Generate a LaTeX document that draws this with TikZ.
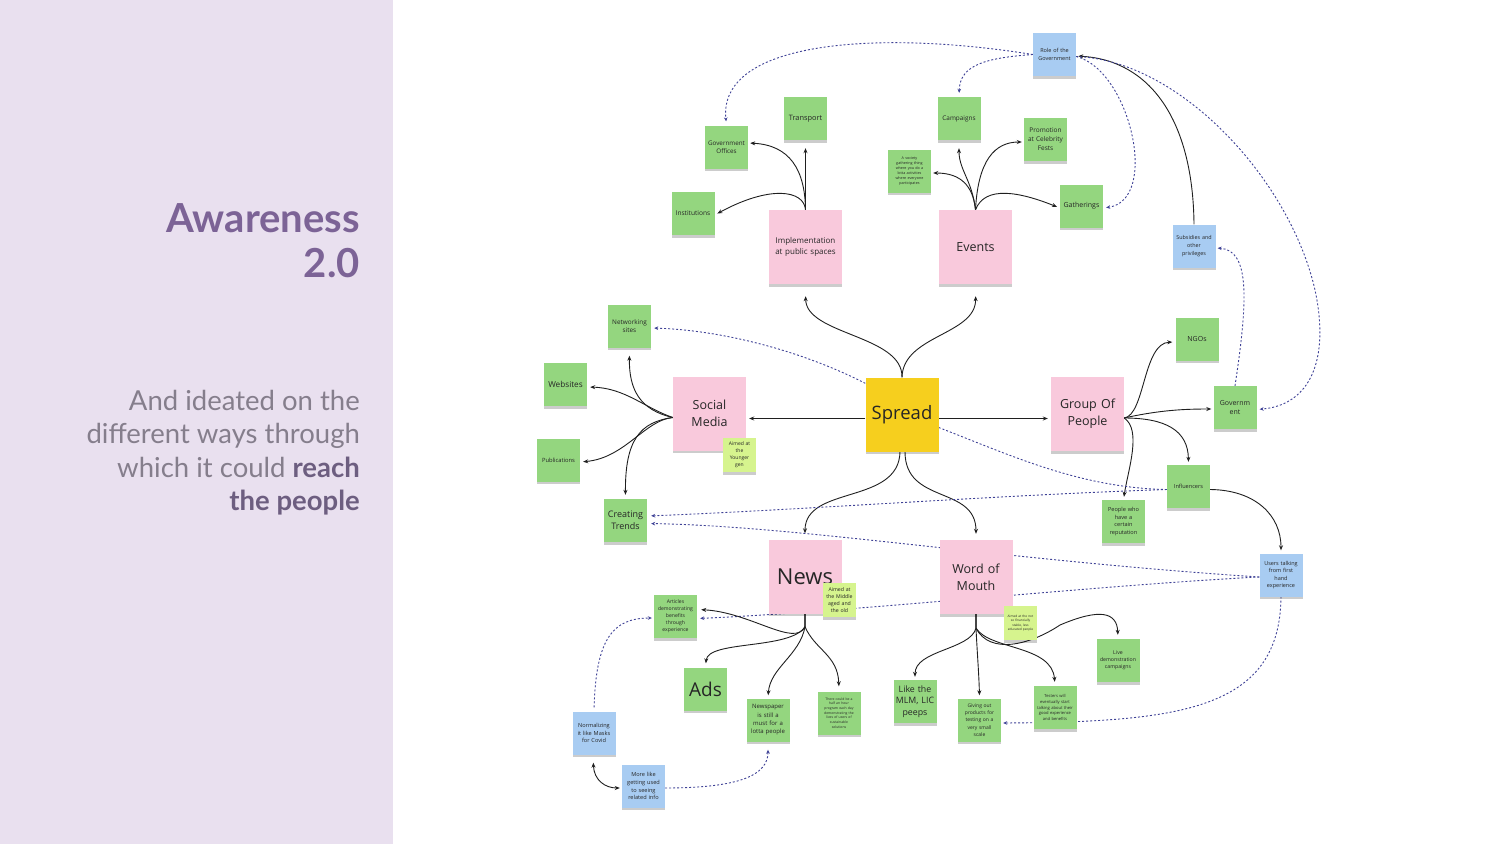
\documentclass[tikz,border=0pt]{standalone}
\usepackage{fontspec}
\setmainfont{Open Sans}
\newfontfamily\lato{Lato}
\usetikzlibrary{shadows,backgrounds,arrows.meta}
\definecolor{panelbg}{HTML}{E9E0EF}
\definecolor{titlepurple}{HTML}{7C6396}
\definecolor{subgray}{HTML}{857E8C}
\definecolor{subbold}{HTML}{6D5E80}
\definecolor{stgreen}{HTML}{94D67F}
\definecolor{stpink}{HTML}{F9C9DC}
\definecolor{styellow}{HTML}{F6CF1E}
\definecolor{stblue}{HTML}{A8CCF2}
\definecolor{stlime}{HTML}{D6F48E}
\definecolor{notetext}{HTML}{262626}
\definecolor{dotblue}{HTML}{3F4296}
\newcommand\fsz[2]{\fontsize{#1}{#2}\selectfont}
\tikzset{
  note/.style={draw=none, align=center, inner sep=1pt, text=notetext,
    drop shadow={shadow xshift=0pt, shadow yshift=-2.5pt, opacity=0.2, fill=black}},
  gnote/.style={note, fill=stgreen, minimum width=43pt, minimum height=43pt, text width=41pt},
  bnote/.style={gnote, fill=stblue},
  pnote/.style={note, fill=stpink, minimum width=73pt, minimum height=74pt, text width=70pt},
  ynote/.style={pnote, fill=styellow},
  lnote/.style={note, fill=stlime, minimum width=33pt, minimum height=34pt, text width=31pt},
  conn/.style={-{Stealth[length=5pt,width=4pt]}, line width=0.9pt, draw=black!88},
  dots/.style={-{Stealth[length=4pt,width=3.6pt]}, dash pattern=on 2pt off 2pt, line width=0.9pt, draw=dotblue},
  dotsplain/.style={dash pattern=on 2pt off 2pt, line width=0.9pt, draw=dotblue},
  subline/.style={anchor=base east, inner sep=0pt, text=subgray, font={\lato\fsz{27.5}{33}}},
  titleline/.style={anchor=base east, inner sep=0pt, text=titlepurple, font={\lato\bfseries\fsz{40}{46}}},
}
\begin{document}
\begin{tikzpicture}[x=1pt,y=-1pt]
\useasboundingbox (0,0) rectangle (1500,844);
\fill[panelbg] (0,0) rectangle (393,844);
\node[titleline] (t1) at (360,232) {Awareness};
\node[titleline] (t2) at (360,277) {2.0};
\node[subline] (s1) at (360,410) {And ideated on the};
\node[subline] (s2) at (360,443.5) {different ways through};
\node[subline] (s3) at (360,477) {which it could {\bfseries\color{subbold}reach}};
\node[subline] (s4) at (360,510) {{\bfseries\color{subbold}the people}};

% main notes
\node[ynote, font={\fsz{18.5}{22}}] (spread) at (902,414.5) {Spread};
\node[pnote, font={\fsz{8}{11}}] (impl) at (805.5,247) {Implementation\\at public spaces};
\node[pnote, font={\fsz{12.5}{17}}] (events) at (975.5,247) {Events};
\node[pnote, font={\fsz{12.5}{17}}] (social) at (709.5,413.5) {Social\\Media};
\node[pnote, font={\fsz{12.5}{17}}] (group) at (1087.5,414) {Group Of\\People};
\node[pnote, font={\fsz{22}{26}}] (news) at (805,576.5) {News};
\node[pnote, font={\fsz{12.5}{17}}] (wom) at (976,577) {Word of\\Mouth};

% top
\node[gnote, font={\fsz{6.3}{8.5}}] (govoff) at (726.5,147) {Government\\Offices};
\node[gnote, font={\fsz{7.4}{9}}] (transport) at (805.5,118.5) {Transport};
\node[gnote, font={\fsz{6.6}{9}}] (inst) at (693,213.5) {Institutions};
\node[gnote, font={\fsz{6.4}{9}}] (camp) at (959,118.5) {Campaigns};
\node[gnote, font={\fsz{6.5}{9}}] (promo) at (1045.5,139.5) {Promotion\\at Celebrity\\Fests};
\node[gnote, font={\fsz{3.7}{5.1}}] (society) at (909.5,171) {A society\\gathering thing\\where you do a\\lotta activities\\where everyone\\participates};
\node[gnote, font={\fsz{7}{9}}] (gather) at (1081.5,206) {Gatherings};
\node[bnote, font={\fsz{5.5}{7.8}}] (roleg) at (1054.5,54.5) {Role of the\\Government};
\node[bnote, font={\fsz{5.4}{7.6}}] (subs) at (1194,246) {Subsidies and\\other\\privileges};

% left
\node[gnote, font={\fsz{6.4}{8.5}}] (netw) at (629.5,326) {Networking\\sites};
\node[gnote, font={\fsz{8.2}{10}}] (webs) at (565.5,384.5) {Websites};
\node[gnote, font={\fsz{5.8}{8}}] (pubs) at (558.5,460) {Publications};
\node[gnote, font={\fsz{9}{12}}] (trends) at (625.5,520.5) {Creating\\Trends};
\node[lnote, font={\fsz{5}{7}}] (younger) at (739.5,455) {Aimed at\\the\\Younger\\gen};

% right
\node[gnote, font={\fsz{7}{9}}] (ngos) at (1197,339) {NGOs};
\node[gnote, font={\fsz{7}{9}}] (govt) at (1235,407.5) {Governm\\ent};
\node[gnote, font={\fsz{5.6}{8}}] (infl) at (1188.5,486.5) {Influencers};
\node[gnote, font={\fsz{5.6}{7.6}}] (people) at (1123.5,521.5) {People who\\have a\\certain\\reputation};
\node[bnote, font={\fsz{5.5}{7.5}}] (users) at (1281,575) {Users talking\\from first\\hand\\experience};

% bottom
\node[lnote, font={\fsz{5.2}{7}}] (middle) at (839.5,600) {Aimed at\\the Middle\\aged and\\the old};
\node[lnote, font={\fsz{3.2}{4.4}}] (notso) at (1020.5,623) {Aimed at the not\\so financially\\stable, less\\educated people};
\node[gnote, font={\fsz{5.1}{7}}] (articles) at (675.5,616.5) {Articles\\demonstrating\\benefits\\through\\experience};
\node[gnote, font={\fsz{19}{22}}] (ads) at (705.5,689) {Ads};
\node[gnote, font={\fsz{6}{8.3}}] (newspaper) at (768,720) {Newspaper\\is still a\\must for a\\lotta people};
\node[gnote, font={\fsz{3.4}{4.7}}] (program) at (839,713) {There could be a\\half an hour\\program each day\\demonstrating the\\lives of users of\\sustainable\\solutions};
\node[bnote, font={\fsz{5.6}{7.6}}] (normal) at (594,733) {Normalizing\\it like Masks\\for Covid};
\node[bnote, font={\fsz{5.6}{7.8}}] (morelike) at (643.5,786) {More like\\getting used\\to seeing\\related info};
\node[gnote, font={\fsz{8.8}{11.5}}] (mlm) at (915,701.5) {Like the\\MLM, LIC\\peeps};
\node[gnote, font={\fsz{5}{7.2}}] (giving) at (979.5,720) {Giving out\\products for\\testing on a\\very small\\scale};
\node[gnote, font={\fsz{4.1}{5.6}}] (testers) at (1055,707.5) {Testers will\\eventually start\\talking about their\\good experience\\and benefits};
\node[gnote, font={\fsz{5.2}{7.2}}] (live) at (1118,660.5) {Live\\demonstration\\campaigns};

\begin{pgfonlayer}{background}
% spread
\draw[conn, shorten >=12pt] (spread.north) .. controls (903,335) and (806,335) .. (impl.south);
\draw[conn, shorten >=12pt] (spread.north) .. controls (903,335) and (976,335) .. (events.south);
\draw[conn, shorten >=3pt] ([yshift=-4pt]spread.west) -- ([yshift=-5pt]social.east);
\draw[conn, shorten >=3pt] ([yshift=-4pt]spread.east) -- ([yshift=-4.5pt]group.west);
\draw[conn, shorten >=6pt] ([xshift=-2pt]spread.south) .. controls (899,505) and (805,485) .. (news.north);
\draw[conn, shorten >=6pt] ([xshift=3pt]spread.south) .. controls (905,505) and (976,485) .. (wom.north);
% implementation
\draw[conn, shorten >=8pt] (impl.north) -- (transport.south);
\draw[conn, shorten >=2pt] (impl.north) .. controls (805,170) and (790,145) .. ([yshift=4pt]govoff.east);
\draw[conn, shorten >=3pt] (impl.north) .. controls (804,190) and (770,185) .. ([yshift=-1.5pt]inst.east);
% events
\draw[conn, shorten >=8pt] (events.north) .. controls (972,180) and (959,170) .. (camp.south);
\draw[conn, shorten >=2pt] (events.north) .. controls (973,185) and (960,173) .. ([yshift=-2pt]society.east);
\draw[conn, shorten >=2pt] (events.north) .. controls (978,160) and (995,142) .. ([yshift=-2.5pt]promo.west);
\draw[conn, shorten >=3pt] (events.north) .. controls (985,185) and (1020,192) .. ([yshift=-2pt]gather.west);
% role of the government
\draw[conn, shorten >=2pt] (subs.north) .. controls (1193,120) and (1150,60) .. ([yshift=-1.5pt]roleg.east);
\draw[dots, shorten >=4pt] (roleg.west) .. controls (880,30) and (718,40) .. (govoff.north);
\draw[dots, shorten >=4pt] (roleg.west) .. controls (985,58) and (960,65) .. (camp.north);
\draw[dots, shorten >=3pt] ([yshift=-2pt]roleg.east) .. controls (1130,70) and (1160,200) .. ([yshift=-2pt]gather.east);
\draw[dots, shorten >=3pt] ([yshift=-2pt]roleg.east) .. controls (1180,60) and (1290,180) .. (1315,290) .. controls (1330,360) and (1310,405) .. ([yshift=-2pt]govt.east);
\draw[dots, shorten >=2pt] (govt.north) .. controls (1248,300) and (1250,250) .. ([yshift=-2pt]subs.east);
% group of people
\draw[conn, shorten >=3pt] ([yshift=-4pt]group.east) .. controls (1145,415) and (1143,343) .. ([yshift=-3pt]ngos.west);
\draw[conn, shorten >=2pt] ([yshift=-4pt]group.east) .. controls (1160,410) and (1185,409) .. ([yshift=-1.5pt]govt.west);
\draw[conn, shorten >=3pt] ([yshift=-4pt]group.east) .. controls (1165,418) and (1188,430) .. (infl.north);
\draw[conn, shorten >=3pt] ([yshift=-4pt]group.east) .. controls (1142,430) and (1128,470) .. (people.north);
\draw[conn, shorten >=3pt] ([yshift=-3pt]infl.east) .. controls (1255,490) and (1281,515) .. (users.north);
% social media
\draw[conn, shorten >=8pt] ([yshift=-4pt]social.west) .. controls (640,410) and (629,390) .. (netw.south);
\draw[conn, shorten >=3pt] ([yshift=-4pt]social.west) .. controls (645,408) and (625,388) .. ([yshift=-2.5pt]webs.east);
\draw[conn, shorten >=3pt] ([yshift=-4pt]social.west) .. controls (645,420) and (625,458) .. ([yshift=-2pt]pubs.east);
\draw[conn, shorten >=4pt] ([yshift=-4pt]social.west) .. controls (640,422) and (625,440) .. (trends.north);
% dotted across
\draw[dots, shorten >=3pt] ([yshift=-6pt]spread.north west) .. controls (800,350) and (720,330) .. ([yshift=-2pt]netw.east);
\draw[dotsplain] ([yshift=-13pt]spread.east) .. controls (1010,455) and (1080,488) .. ([yshift=-3pt]infl.west);
\draw[dots, shorten >=4pt] ([yshift=-3pt]infl.west) .. controls (1000,495) and (800,510) .. ([yshift=4.5pt]trends.east);
\draw[dots, shorten >=4pt] ([yshift=-2pt]users.west) .. controls (1000,560) and (800,526) .. ([yshift=-3pt]trends.east);
\draw[dots, shorten >=3pt] ([yshift=-2pt]users.west) .. controls (1100,585) and (850,612) .. ([yshift=-2pt]articles.east);
\draw[dots, shorten >=2pt] (users.south) .. controls (1280,710) and (1180,722) .. ([yshift=-3pt]giving.east);
% news
\draw[conn, shorten >=4pt] (news.south) -- ++(0,13) .. controls (795,648) and (750,612) .. ([yshift=7pt]articles.east);
\draw[conn, shorten >=4pt] (news.south) -- ++(0,13) .. controls (790,650) and (708,640) .. (ads.north);
\draw[conn, shorten >=3pt] (news.south) -- ++(0,13) .. controls (800,655) and (770,668) .. (newspaper.north);
\draw[conn, shorten >=5pt] (news.south) -- ++(0,13) .. controls (815,650) and (838,655) .. (program.north);
\draw[{Stealth[length=5pt,width=4pt]}-{Stealth[length=5pt,width=4pt]}, line width=0.9pt, draw=black!88, shorten <=8pt, shorten >=2pt] ([xshift=-1pt]normal.south) .. controls (594,780) and (605,788) .. ([yshift=-2pt]morelike.west);
\draw[dots, shorten <=4pt, shorten >=2pt] (normal.north) .. controls (596,640) and (612,618) .. ([yshift=-1.5pt]articles.west);
\draw[dots, shorten >=8pt] ([yshift=-2pt]morelike.east) .. controls (740,788) and (768,775) .. (newspaper.south);
% word of mouth
\draw[conn, shorten >=3pt] (wom.south) -- ++(0,14) .. controls (970,650) and (915,650) .. (mlm.north);
\draw[conn, shorten >=3pt] (wom.south) -- ++(0,14) .. controls (977,650) and (979,675) .. (giving.north);
\draw[conn, shorten >=4pt] (wom.south) -- ++(0,14) .. controls (990,650) and (1052,645) .. (testers.north);
\draw[conn, shorten >=4pt] (wom.south) -- ++(0,14) .. controls (990,655) and (1030,645) .. (1060,625) .. controls (1100,608) and (1117,612) .. (live.north);
\end{pgfonlayer}
\end{tikzpicture}
\end{document}
